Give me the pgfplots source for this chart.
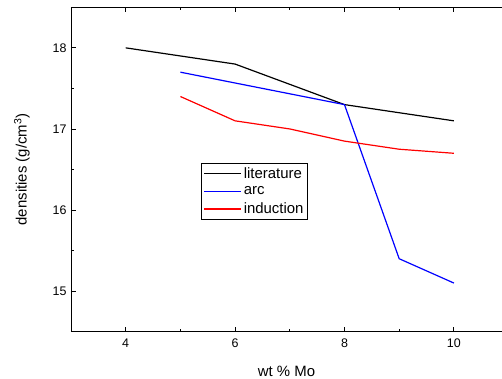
\documentclass[border=0pt]{standalone}
\usepackage{pgfplots}
\pgfplotsset{compat=1.18}
\usepackage{fontspec}
\setmainfont{Liberation Sans}
\pgfplotsset{
  leglit/.style={legend image code/.code={\draw[black, line width=1.4bp] (0bp,0bp) -- (37bp,0bp);}},
  legarc/.style={legend image code/.code={\draw[blue, line width=1.4bp] (0bp,0bp) -- (37bp,0bp);}},
  legind/.style={legend image code/.code={\draw[red, line width=1.4bp] (0bp,0bp) -- (37bp,0bp);}},
}
\begin{document}
\begin{tikzpicture}
\begin{axis}[
  name=ax,
  scale only axis,
  width=431bp, height=324.4bp,
  xmin=3, xmax=10.88, ymin=14.5, ymax=18.5,
  axis y line*=left,
  xtick={4,6,8,10}, ytick={15,16,17,18},
  minor x tick num=1, minor y tick num=1,
  tick align=inside,
  major tick length=5bp, minor tick length=3bp,
  every tick/.style={black, line width=0.8bp},
  axis line style={line width=0.9bp},
  /pgf/number format/assume math mode=true,
  tick label style={font=\fontsize{12.5}{14}\selectfont},
  xticklabel style={yshift=-4bp},
  yticklabel style={xshift=-1bp},
  label style={font=\fontsize{15}{17}\selectfont},
  xlabel={wt \% Mo},
  ylabel={densities (g/cm\textsuperscript{3})},
  xlabel style={at={(axis description cs:0.5,-0.1216)}, anchor=center},
  ylabel style={at={(axis description cs:-0.1137,0.5)}, anchor=center},
  legend style={at={(0.302,0.52)}, anchor=north west,
    font=\fontsize{15}{16}\selectfont, inner sep=2pt, row sep=3bp},
  legend cell align=left,
]
\addplot[draw=black, line width=1.2bp, leglit] coordinates {(4,18.0) (6,17.8) (8,17.3) (10,17.1)};
\addlegendentry{literature}
\addplot[draw=blue, line width=1.2bp, legarc] coordinates {(5,17.7) (8,17.3) (9,15.4) (10,15.1)};
\addlegendentry{arc}
\addplot[draw=red, line width=1.2bp, legind] coordinates {(5,17.4) (6,17.1) (7,17.0) (8,16.85) (9,16.75) (10,16.7)};
\addlegendentry{induction}
\end{axis}
\pgfresetboundingbox
\path ([xshift=-71bp,yshift=-47.3bp]ax.south west) rectangle ([yshift=7.3bp]ax.north east);
\end{tikzpicture}
\end{document}
